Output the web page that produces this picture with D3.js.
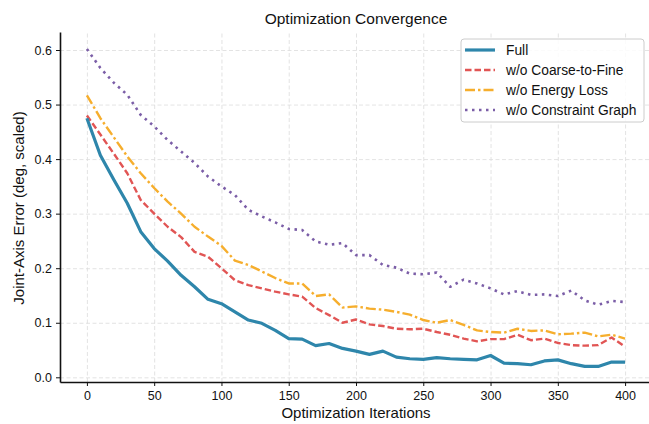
<!DOCTYPE html>
<html>
<head>
<meta charset="utf-8">
<style>
  body { margin: 0; background: #fff; }
  svg text { font-family: "Liberation Sans", Arial, Helvetica, sans-serif; fill: #111; }
  .grid line { stroke: #dcdcdc; stroke-width: 0.8; stroke-dasharray: 4,2.5; }
  .grid path { display: none; }
  .axis path, .axis line { stroke: #111; }
  .axis text { font-size: 12.5px; }
</style>
</head>
<body>
<svg width="649" height="424" id="chart"></svg>
<script src="https://cdnjs.cloudflare.com/ajax/libs/d3/7.8.5/d3.min.js"></script>
<script>
// ---- data ----
var iterations = d3.range(0, 401, 10);

var fullVals = [0.475, 0.407, 0.362, 0.319, 0.267, 0.236, 0.213, 0.187, 0.166, 0.143,
  0.135, 0.120, 0.105, 0.099, 0.086, 0.071, 0.070, 0.058, 0.062, 0.053,
  0.048, 0.042, 0.048, 0.037, 0.034, 0.033, 0.036, 0.034, 0.033, 0.032,
  0.040, 0.026, 0.025, 0.023, 0.030, 0.032, 0.025, 0.020, 0.020, 0.028, 0.028];

var noC2F = [0.480, 0.445, 0.410, 0.374, 0.325, 0.300, 0.276, 0.257, 0.230, 0.221,
  0.200, 0.178, 0.169, 0.163, 0.157, 0.152, 0.148, 0.127, 0.114, 0.100,
  0.106, 0.097, 0.094, 0.089, 0.088, 0.089, 0.083, 0.078, 0.071, 0.066,
  0.070, 0.070, 0.078, 0.068, 0.071, 0.063, 0.059, 0.058, 0.059, 0.073, 0.056];

var noEnergy = [0.517, 0.475, 0.440, 0.405, 0.374, 0.347, 0.322, 0.300, 0.276, 0.258,
  0.241, 0.214, 0.206, 0.194, 0.182, 0.172, 0.172, 0.149, 0.152, 0.128,
  0.130, 0.126, 0.124, 0.120, 0.115, 0.105, 0.100, 0.105, 0.096, 0.086,
  0.083, 0.082, 0.089, 0.085, 0.086, 0.079, 0.080, 0.082, 0.075, 0.078, 0.071];

var noGraph = [0.602, 0.567, 0.540, 0.518, 0.481, 0.460, 0.435, 0.414, 0.393, 0.368,
  0.350, 0.334, 0.307, 0.295, 0.284, 0.272, 0.270, 0.249, 0.243, 0.246,
  0.224, 0.224, 0.206, 0.201, 0.190, 0.189, 0.192, 0.166, 0.179, 0.172,
  0.163, 0.152, 0.158, 0.151, 0.152, 0.149, 0.159, 0.141, 0.133, 0.140, 0.138];

var seriesNames = ["Full", "w/o Coarse-to-Fine", "w/o Energy Loss", "w/o Constraint Graph"];
var xTicks = [0, 50, 100, 150, 200, 250, 300, 350, 400];
var yTicks = [0.0, 0.1, 0.2, 0.3, 0.4, 0.5, 0.6];

// ---- look of each series ----
var colors = ["#2E86AB", "#E15554", "#F6AE2D", "#7B5EA7"];
var widths = [3.2, 2.4, 2.4, 2.6];
var dashes = [null, "6.5,3", "10,3,2.5,3", "2.5,4.5"];

var svg = d3.select("#chart"),
    margin = {top: 32, left: 60},
    plotW = 592, plotH = 350;

var g = svg.append("g")
    .attr("transform", "translate(" + margin.left + "," + margin.top + ")");

var x = d3.scaleLinear().domain([-20, 420]).range([0, plotW]);
var y = d3.scaleLinear().domain([-0.0086, 0.633]).range([plotH, 0]);

// grid
g.append("g").attr("class", "grid")
    .attr("transform", "translate(0," + plotH + ")")
    .call(d3.axisBottom(x).tickValues(xTicks).tickSize(-plotH).tickFormat(""));
g.append("g").attr("class", "grid")
    .call(d3.axisLeft(y).tickValues(yTicks).tickSize(-plotW).tickFormat(""));

// lines
var series = [fullVals, noC2F, noEnergy, noGraph].map(function(vals, i) {
  return {name: seriesNames[i], values: vals.map(function(v, j) { return {it: iterations[j], v: v}; })};
});

var line = d3.line()
    .x(function(d) { return x(d.it); })
    .y(function(d) { return y(d.v); });

// draw back-to-front so "Full" sits on top
series.slice().reverse().forEach(function(s) {
  var i = seriesNames.indexOf(s.name);
  g.append("path")
      .datum(s.values)
      .attr("d", line)
      .attr("fill", "none")
      .attr("stroke", colors[i])
      .attr("stroke-width", widths[i])
      .attr("stroke-dasharray", dashes[i])
      .attr("stroke-linejoin", "round");
});

// axes
var xAxis = g.append("g").attr("class", "axis")
    .attr("transform", "translate(0," + plotH + ")")
    .call(d3.axisBottom(x).tickValues(xTicks).tickSize(4).tickPadding(5).tickSizeOuter(0));
xAxis.select(".domain").attr("stroke-width", 1.6);

var yAxis = g.append("g").attr("class", "axis")
    .call(d3.axisLeft(y).tickValues(yTicks).tickSize(4).tickPadding(4).tickSizeOuter(0).tickFormat(d3.format(".1f")));
yAxis.select(".domain").attr("stroke-width", 1.6);

// titles
svg.append("text")
    .attr("x", 356).attr("y", 24)
    .attr("text-anchor", "middle")
    .style("font-size", "15.5px")
    .text("Optimization Convergence");

svg.append("text")
    .attr("x", 356).attr("y", 418)
    .attr("text-anchor", "middle")
    .style("font-size", "15px")
    .text("Optimization Iterations");

svg.append("text")
    .attr("transform", "translate(24,208) rotate(-90)")
    .attr("text-anchor", "middle")
    .style("font-size", "15px")
    .text("Joint-Axis Error (deg, scaled)");

// legend
var leg = svg.append("g").attr("transform", "translate(461,39)");
leg.append("rect")
    .attr("width", 183).attr("height", 83)
    .attr("rx", 3)
    .attr("fill", "#fff").attr("fill-opacity", 0.85)
    .attr("stroke", "#ccc").attr("stroke-width", 1);

seriesNames.forEach(function(name, i) {
  var row = leg.append("g").attr("transform", "translate(0," + (11 + i * 20) + ")");
  row.append("line")
      .attr("x1", 4).attr("x2", 34)
      .attr("stroke", colors[i])
      .attr("stroke-width", widths[i])
      .attr("stroke-dasharray", dashes[i]);
  row.append("text")
      .attr("x", 45).attr("dy", "0.35em")
      .style("font-size", "13.8px")
      .text(name);
});
</script>
</body>
</html>
